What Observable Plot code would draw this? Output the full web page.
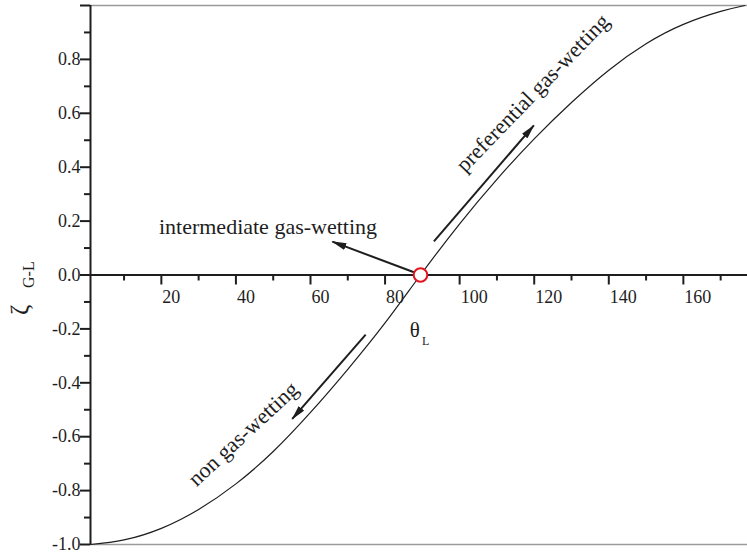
<!DOCTYPE html>
<html>
<head>
<meta charset="utf-8">
<script src="https://cdn.jsdelivr.net/npm/d3@7"></script>
<script src="https://cdn.jsdelivr.net/npm/@observablehq/plot@0.6"></script>
<style>
  html, body { margin: 0; padding: 0; background: white; }
  #chart svg { display: block; }
</style>
</head>
<body>
<div id="chart"></div>
<script>
// ---- data ----
const thetaDeg = [1, 10, 20, 30, 40, 50, 60, 70, 80, 89.5, 100, 110, 120, 130, 140, 150, 160, 170, 176.5];
const zetaGL   = [-1.0, -0.983, -0.94, -0.87, -0.775, -0.655, -0.51, -0.35, -0.178, 0, 0.19, 0.355, 0.505, 0.64, 0.76, 0.858, 0.93, 0.978, 1.0];

const xDomain = [1, 177.2];
const yDomain = [-1, 1];
const xMajorTicks = [20, 40, 60, 80, 100, 120, 140, 160];
const xMinorTicks = [10, 30, 50, 70, 90, 110, 130, 150, 170];
const yMajorTicks = [-1.0, -0.8, -0.6, -0.4, -0.2, 0.0, 0.2, 0.4, 0.6, 0.8, 1.0];
const yLabelTicks = [-1.0, -0.8, -0.6, -0.4, -0.2, 0.0, 0.2, 0.4, 0.6, 0.8];
const yMinorTicks = [-0.9, -0.7, -0.5, -0.3, -0.1, 0.1, 0.3, 0.5, 0.7, 0.9];

const thetaL = [{theta: 89.5, zeta: 0}];

const annotations = [
  {text: "intermediate gas-wetting", theta: 48.6, zeta: 0.178, rotate: 0},
  {text: "preferential gas-wetting", theta: 119.6, zeta: 0.675, rotate: -46},
  {text: "non gas-wetting", theta: 42.0, zeta: -0.59, rotate: -43}
];
const arrows = [
  {theta1: 87.75, zeta1: 0.010, theta2: 65.86, zeta2: 0.124},
  {theta1: 93.1, zeta1: 0.125, theta2: 119.9, zeta2: 0.555},
  {theta1: 74.8, zeta1: -0.221, theta2: 55.1, zeta2: -0.534}
];
const thetaLabel = [{text: "θ", theta: 88.0, zeta: -0.206}];
const thetaSub = [{text: "L", theta: 90.9, zeta: -0.244}];

const curve = thetaDeg.map((t, i) => ({theta: t, zeta: zetaGL[i]}));

const serif = "'Liberation Serif', 'Times New Roman', Times, serif";
const ink = "#1e1e1e";

function headMarker(color) {
  const m = d3.create("svg:marker")
    .attr("viewBox", "-14 -4 15 8")
    .attr("markerUnits", "userSpaceOnUse")
    .attr("markerWidth", 15)
    .attr("markerHeight", 8)
    .attr("refX", 0)
    .attr("refY", 0)
    .attr("orient", "auto")
    .attr("fill", color)
    .attr("stroke", "none");
  m.append("path").attr("d", "M-14,-3.6L1,0L-14,3.6Z");
  return m.node();
}

const chart = Plot.plot({
  width: 747,
  height: 555,
  marginLeft: 90,
  marginRight: 0,
  marginTop: 5,
  marginBottom: 11,
  style: {fontFamily: serif, fontSize: "18px", color: ink, background: "white"},
  x: {domain: xDomain, axis: null},
  y: {domain: yDomain, axis: null},
  marks: [
    // gray top / bottom frame lines
    Plot.ruleY(yDomain, {y: d => d, stroke: "#9a9a9a", strokeWidth: 1.5}),
    // y axis line
    Plot.ruleX([xDomain[0]], {x: d => d, y1: yDomain[0], y2: yDomain[1], stroke: ink, strokeWidth: 2}),
    // y ticks
    Plot.ruleY(yMajorTicks, {y: d => d, x1: xDomain[0], x2: xDomain[0], insetLeft: -10, stroke: ink, strokeWidth: 2}),
    Plot.ruleY(yMinorTicks, {y: d => d, x1: xDomain[0], x2: xDomain[0], insetLeft: -6, stroke: ink, strokeWidth: 2}),
    Plot.text(yLabelTicks, {x: xDomain[0], y: d => d, text: d => d.toFixed(1), textAnchor: "end", dx: -10, fontSize: 18, fill: ink}),
    // x axis line at zero
    Plot.ruleY([0], {y: d => d, stroke: ink, strokeWidth: 2}),
    // x ticks (downward)
    Plot.ruleX(xMajorTicks, {x: d => d, y1: 0, y2: 0, insetBottom: -10, stroke: ink, strokeWidth: 2}),
    Plot.ruleX(xMinorTicks, {x: d => d, y1: 0, y2: 0, insetBottom: -6, stroke: ink, strokeWidth: 2}),
    Plot.text(xMajorTicks, {x: d => d, y: 0, text: d => String(d), textAnchor: "start", dx: 1, dy: 22.4, fontSize: 18, fill: ink}),
    // y axis title ζ G-L (rotated)
    Plot.text(["ζ"], {frameAnchor: "left", text: d => d, rotate: -90, dx: -71, dy: 40, fontSize: 25, fill: ink}),
    Plot.text(["G-L"], {frameAnchor: "left", text: d => d, rotate: -90, dx: -62, dy: 13, fontSize: 16, fill: ink}),
    // curve
    Plot.line(curve, {x: "theta", y: "zeta", curve: "natural", stroke: ink, strokeWidth: 1.2}),
    // arrows
    Plot.link(arrows, {x1: "theta1", y1: "zeta1", x2: "theta2", y2: "zeta2", stroke: ink, strokeWidth: 2, markerEnd: headMarker}),
    // annotation texts
    Plot.text(annotations, {x: "theta", y: "zeta", text: "text", rotate: "rotate", fontSize: 22, fill: ink}),
    Plot.text(thetaLabel, {x: "theta", y: "zeta", text: "text", fontSize: 21, fill: ink}),
    Plot.text(thetaSub, {x: "theta", y: "zeta", text: "text", fontSize: 12, fill: ink}),
    // red open circle at the crossing
    Plot.dot(thetaL, {x: "theta", y: "zeta", r: 6.8, stroke: "#e3141c", strokeWidth: 2, fill: "white"})
  ]
});

document.getElementById("chart").appendChild(chart);
</script>
</body>
</html>
